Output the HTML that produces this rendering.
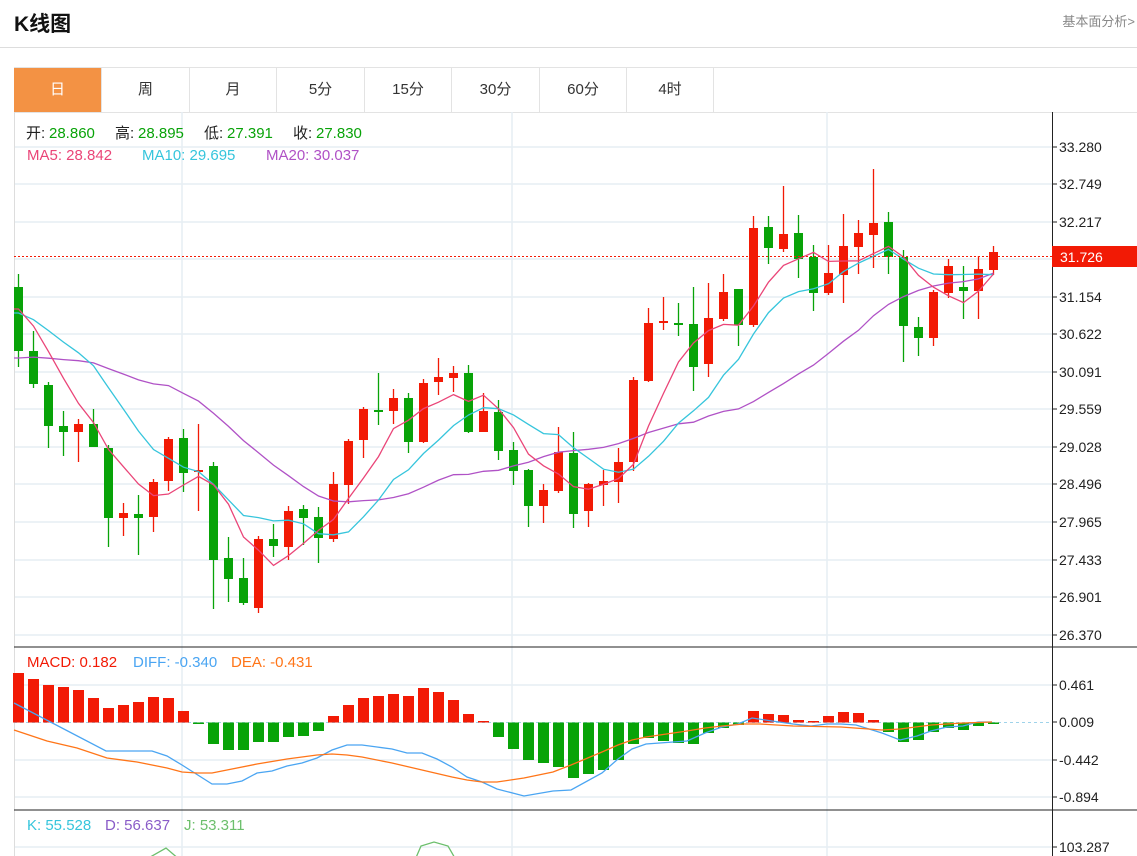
<!DOCTYPE html>
<html><head><meta charset="utf-8"><style>
body{margin:0;width:1137px;height:856px;overflow:hidden;background:#fff;font-family:"Liberation Sans","Noto Sans CJK SC",sans-serif;}
.t{position:absolute;left:14px;top:8px;font-size:21px;font-weight:bold;color:#111}
.r{position:absolute;right:2px;top:11px;font-size:13px;color:#888}
.hl{position:absolute;left:0;top:47px;width:1137px;height:1px;background:#ddd}
.tabs{position:absolute;left:14px;top:67px;width:1123px;height:44px;border-top:1px solid #e3e3e3;border-bottom:1px solid #e3e3e3}
.tab{position:absolute;top:0;height:44px;line-height:44px;text-align:center;font-size:15px;color:#333;border-right:1px solid #e3e3e3;box-sizing:border-box}
.tab.a{background:#f39244;color:#fff}
svg{position:absolute;left:0;top:0}
</style></head><body>
<div class="t">K线图</div><div class="r">基本面分析&gt;</div><div class="hl"></div>
<div class="tabs">
<div class="tab a" style="left:0;width:88px">日</div>
<div class="tab" style="left:88px;width:88px">周</div>
<div class="tab" style="left:176px;width:87px">月</div>
<div class="tab" style="left:263px;width:88px">5分</div>
<div class="tab" style="left:351px;width:87px">15分</div>
<div class="tab" style="left:438px;width:88px">30分</div>
<div class="tab" style="left:526px;width:87px">60分</div>
<div class="tab" style="left:613px;width:87px">4时</div>
</div>
<svg id="s" width="1137" height="856" xmlns="http://www.w3.org/2000/svg" font-family="Liberation Sans, Noto Sans CJK SC, sans-serif"></svg>
<script>
var S=document.getElementById('s'),h='';
var R='#f21a05',G='#08a308';
var gy=[147,184,222,259,297,334,372,409,447,484,522,560,597,635];
gy.forEach(function(y){h+='<line x1="14" x2="1052" y1="'+y+'" y2="'+y+'" stroke="#e6eef4" stroke-width="1.5"/>';});
[685,760,797,847].forEach(function(y){h+='<line x1="14" x2="1052" y1="'+y+'" y2="'+y+'" stroke="#e6eef4" stroke-width="1.5"/>';});
[182,512,827].forEach(function(x){h+='<line x1="'+x+'" x2="'+x+'" y1="112" y2="856" stroke="#e6eef4" stroke-width="1.5"/>';});
h+='<line x1="14.5" x2="14.5" y1="112" y2="856" stroke="#ddd"/>';
h+='<line x1="14" x2="1137" y1="647" y2="647" stroke="#222"/>';
h+='<line x1="14" x2="1137" y1="810" y2="810" stroke="#222"/>';
h+='<line x1="1052.5" x2="1052.5" y1="112" y2="856" stroke="#222"/>';
var labs=[[147,'33.280'],[184,'32.749'],[222,'32.217'],[297,'31.154'],[334,'30.622'],[372,'30.091'],[409,'29.559'],[447,'29.028'],[484,'28.496'],[522,'27.965'],[560,'27.433'],[597,'26.901'],[635,'26.370'],[685,'0.461'],[722,'0.009'],[760,'-0.442'],[797,'-0.894'],[847,'103.287']];
labs.forEach(function(l){h+='<line x1="1052" x2="1057" y1="'+l[0]+'" y2="'+l[0]+'" stroke="#222"/><text x="1059" y="'+(l[0]+5)+'" font-size="14" fill="#222">'+l[1]+'</text>';});
var C=[['G',274,287,351,367],['G',331,351,384,388],['G',382,385,426,448],['G',411,426,432,456],['R',419,424,432,462],['G',409,424,447,447],['G',445,448,518,547],['R',503,513,518,536],['G',495,514,518,555],['R',479,482,517,532],['R',437,439,481,491],['G',429,438,473,492],['R',424,470,472,511],['G',462,466,560,609],['G',537,558,579,602],['G',558,578,603,605],['R',536,539,608,613],['G',524,539,546,557],['R',506,511,547,560],['G',505,509,518,545],['G',507,517,538,563],['R',472,484,539,542],['R',439,441,485,504],['R',407,409,440,458],['G',373,410,411,425],['R',389,398,411,424],['G',393,398,442,453],['R',379,383,442,443],['R',358,377,382,395],['R',366,373,378,392],['G',365,373,432,433],['R',393,411,432,432],['G',400,412,451,460],['G',442,450,471,485],
['G',469,470,506,527],['R',484,490,506,523],['R',427,452,491,493],['G',432,453,514,528],['R',483,484,511,527],['R',470,481,485,506],['R',448,462,482,503],['R',377,380,462,471],['R',308,323,381,382],['R',297,321,323,330],['G',303,323,324,336],['G',287,324,367,391],['R',283,318,364,377],['R',274,292,319,321],['G',289,289,325,346],['R',216,228,325,327],['G',216,227,248,264],['R',186,234,249,252],['G',215,233,259,278],['G',245,257,293,311],['R',245,273,293,295],['R',214,246,275,303],['R',220,233,247,274],['R',169,223,235,268],['G',212,222,257,274],['G',250,257,326,362],['G',317,327,338,356],['R',290,292,338,346],['R',259,266,293,298],['G',266,287,291,319],['R',256,269,291,319],['R',246,252,270,275]];
function X(i){return 18.5+15*i;}
var cl=C.map(function(c){return c[0]=='R'?c[2]:c[3];});
C.forEach(function(c,i){var x=X(i),col=c[0]=='R'?R:G;var bh=Math.max(c[3]-c[2],2);
h+='<line x1="'+x+'" x2="'+x+'" y1="'+c[1]+'" y2="'+c[4]+'" stroke="'+col+'" stroke-width="1.3"/>';
h+='<rect x="'+(x-4.5)+'" y="'+c[2]+'" width="9" height="'+bh+'" fill="'+col+'"/>';});
var pre=[];for(var k=0;k<10;k++)pre.push(403);for(k=0;k<5;k++)pre.push(317);for(k=0;k<4;k++)pre.push(298.5);
var all=pre.concat(cl);
function ma(n,col){var p=[];for(var i=0;i<cl.length;i++){var j=i+19,s=0;for(var q=0;q<n;q++)s+=all[j-q];p.push(X(i)+','+(s/n).toFixed(1));}
var first=p[0].split(',');h+='<polyline fill="none" stroke="'+col+'" stroke-width="1.3" points="14,'+first[1]+' '+p.join(' ')+'"/>';}
ma(20,'#b052c6');ma(10,'#36c5dc');ma(5,'#ea4578');
h+='<line x1="14" x2="1052" y1="256.5" y2="256.5" stroke="#f21a05" stroke-dasharray="2,2"/>';
h+='<rect x="1052" y="246" width="85" height="21" fill="#f21a05"/><text x="1060" y="262" font-size="14" fill="#fff">31.726</text>';
function T(x,y,s,c){h+='<text x="'+x+'" y="'+y+'" font-size="15" fill="'+c+'">'+s+'</text>';}
T(26,138,'开:','#222');T(49,138,'28.860',G);T(115,138,'高:','#222');T(138,138,'28.895',G);T(204,138,'低:','#222');T(227,138,'27.391',G);T(293,138,'收:','#222');T(316,138,'27.830',G);
T(27,160,'MA5:&#160;28.842','#ea4578');T(142,160,'MA10:&#160;29.695','#36c5dc');T(266,160,'MA20:&#160;30.037','#b052c6');
h+='<line x1="14" x2="1052" y1="722.5" y2="722.5" stroke="#9fd3ea" stroke-dasharray="3,3"/>';
var M=[673,679,685,687,690,698,708,705,702,697,698,711,724,744,750,750,742,742,737,736,731,716,705,698,696,694,696,688,692,700,714,721,737,749,760,763,767,778,774,770,760,744,738,741,743,744,733,728,725,711,714,715,720,721,716,712,713,720,732,742,740,732,728,730,726,724];
M.forEach(function(v,i){var x=X(i)-5.5,z=722.5;var top=Math.min(v,z),ht=Math.max(Math.abs(v-z),1);var col=v<z?R:G;h+='<rect x="'+x+'" y="'+top+'" width="11" height="'+ht+'" fill="'+col+'"/>';});
h+='<polyline fill="none" stroke="#4aa5f2" stroke-width="1.3" points="14,703 106,751 152,751 167,756 182,765 212,784 227,784 242,781 257,773 272,771 287,766 302,763 317,758 332,750 347,745 362,745 377,747 392,749 407,753 422,753 437,759 452,767 467,777 482,782 497,789 524,796 553,791 571,790 602,773 618,759 632,749 646,744 687,741 705,733 722,727 738,724 752,718 772,721 793,724 811,726 827,724 841,724 856,725 882,733 900,740 917,736 931,731 947,727 963,726 978,722 992,722"/>';
h+='<polyline fill="none" stroke="#ff7518" stroke-width="1.3" points="14,730 47,741 77,748 107,758 137,762 167,768 182,772 197,773 212,773 227,770 257,764 287,759 317,755 332,754 347,755 362,757 392,763 422,770 452,777 467,780 482,782 497,782 524,778 553,772 571,765 602,752 618,745 632,740 646,737 687,731 705,728 722,726 744,724 760,724 793,726 841,727 882,730 900,729 931,725 963,723 992,722"/>';
T(27,667,'MACD:&#160;0.182','#f21a05');T(133,667,'DIFF:&#160;-0.340','#4aa5f2');T(231,667,'DEA:&#160;-0.431','#ff7518');
T(27,830,'K:&#160;55.528','#36c5dc');T(105,830,'D:&#160;56.637','#8a5cc8');T(184,830,'J:&#160;53.311','#6cbf6c');
h+='<polyline fill="none" stroke="#6cbf6c" stroke-width="1.3" points="145,860 166,848 180,860"/>';
h+='<polyline fill="none" stroke="#6cbf6c" stroke-width="1.3" points="415,860 421,846 434,842 448,846 456,860"/>';
S.innerHTML=h;
</script>
</body></html>
